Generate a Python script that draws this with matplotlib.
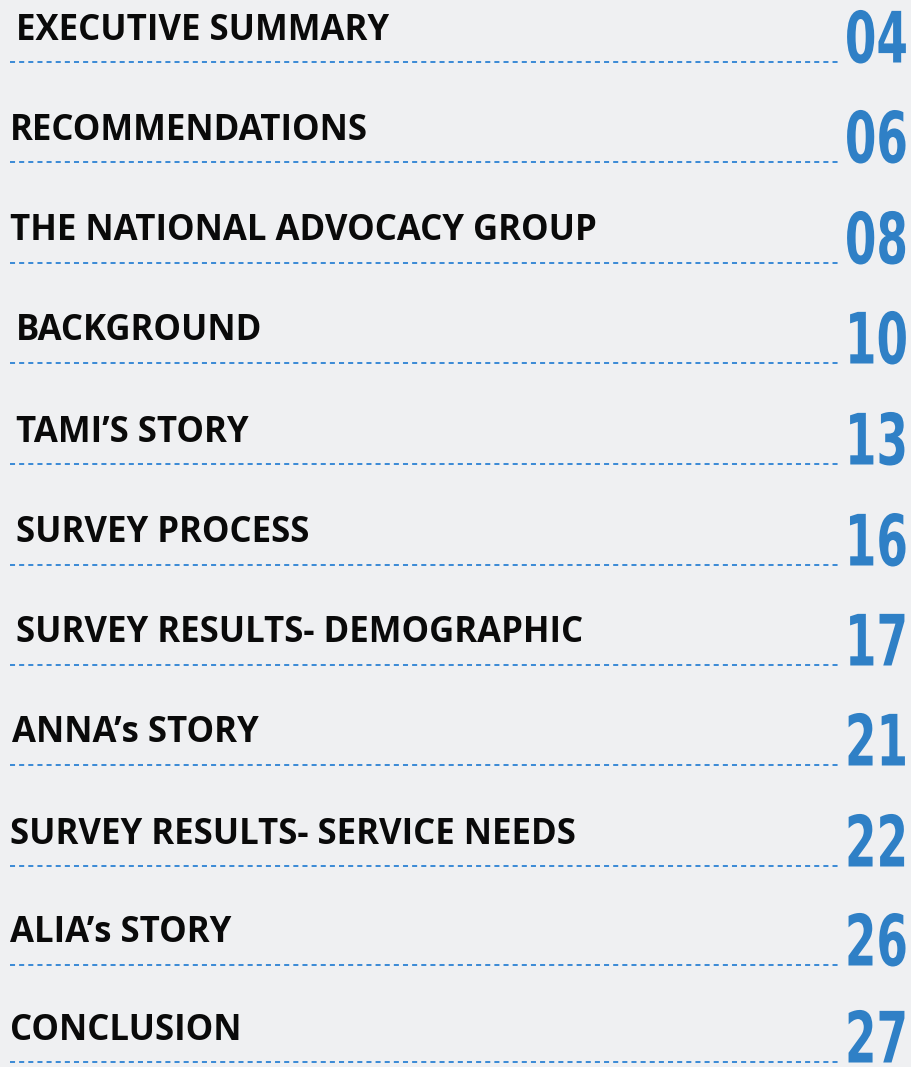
import matplotlib
matplotlib.use("Agg")
import matplotlib.pyplot as plt
from matplotlib.patheffects import AbstractPathEffect
from matplotlib.transforms import Affine2D

# table of contents entries
titles = ["EXECUTIVE SUMMARY", "RECOMMENDATIONS", "THE NATIONAL ADVOCACY GROUP",
          "BACKGROUND", "TAMI\u2019S STORY", "SURVEY PROCESS",
          "SURVEY RESULTS- DEMOGRAPHIC", "ANNA\u2019s STORY",
          "SURVEY RESULTS- SERVICE NEEDS", "ALIA\u2019s STORY", "CONCLUSION"]
pages = ["04", "06", "08", "10", "13", "16", "17", "21", "22", "26", "27"]

# layout: left indent of each title and y of each dotted rule (px)
indent = [16, 10, 10, 16, 16, 16, 16, 12, 10, 10, 10]
rule_y = [62, 162, 263, 363, 464, 565, 665, 765, 866, 965, 1062]

bg = "#eff0f2"
blue = "#2f80c6"


class Squeeze(AbstractPathEffect):
    """narrow the glyphs horizontally around a fixed x (display px)"""
    def __init__(self, sx, x0):
        super().__init__()
        self.sx = sx
        self.x0 = x0

    def draw_path(self, renderer, gc, tpath, affine, rgbFace=None):
        sq = Affine2D().translate(-self.x0, 0).scale(self.sx, 1).translate(self.x0, 0)
        renderer.draw_path(gc, tpath, affine + sq, rgbFace)


fig = plt.figure(figsize=(9.11, 10.67), dpi=100, facecolor=bg)
ax = fig.add_axes([0, 0, 1, 1])
ax.set_facecolor(bg)
ax.set_xlim(0, 911)
ax.set_ylim(1067, 0)
ax.axis("off")

x_num = 908
for i, (t, p) in enumerate(zip(titles, pages)):
    yl = rule_y[i]
    ax.text(indent[i], yl - 22.5, t, fontsize=25, fontweight="bold",
            family=["Open Sans", "DejaVu Sans"], color="#0a0a0a",
            ha="left", va="baseline")
    ax.plot([10, 840], [yl, yl], color="#3a8ad6", lw=1.4,
            linestyle=(0, (2.6, 2.1)), solid_capstyle="butt")
    ax.text(x_num, yl + 0.5, p, fontsize=51, fontweight="bold",
            family="DejaVu Sans", color=blue, ha="right", va="baseline",
            path_effects=[Squeeze(0.64, x_num)])

fig.savefig("out.png", dpi=100, facecolor=bg)
